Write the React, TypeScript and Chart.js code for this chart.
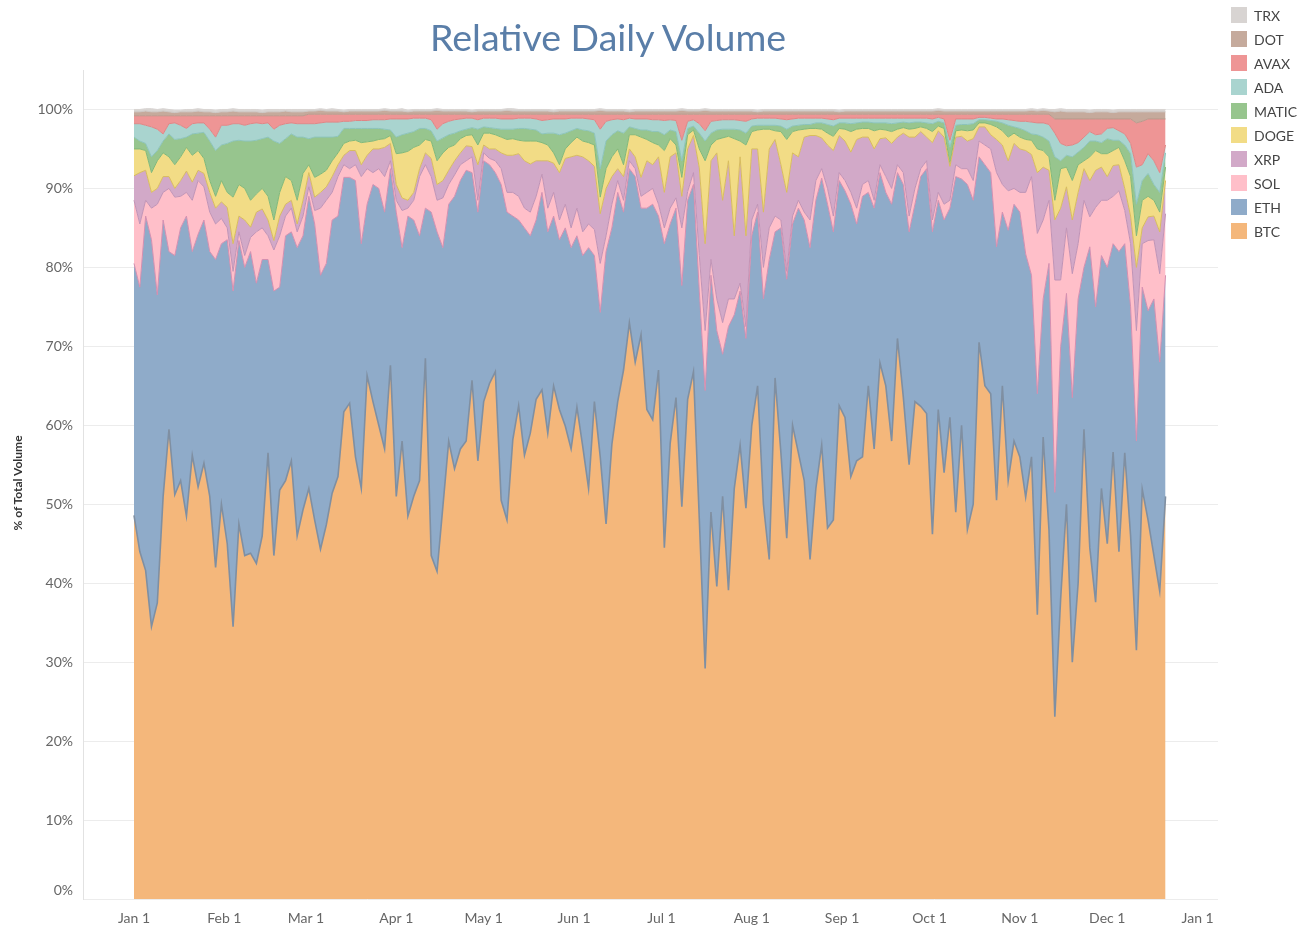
import { useEffect, useRef } from "react";
import { Chart, registerables } from "chart.js";

Chart.register(...registerables);

// Sampling grid: every second day from Jan 1 (day 0) to Dec 21 (day 354)
const monthTickDays = [0, 31, 59, 90, 120, 151, 181, 212, 243, 273, 304, 334, 365];
const monthTickLabels = ["Jan 1", "Feb 1", "Mar 1", "Apr 1", "May 1", "Jun 1", "Jul 1", "Aug 1", "Sep 1", "Oct 1", "Nov 1", "Dec 1", "Jan 1"];
const yTickValues = [0, 10, 20, 30, 40, 50, 60, 70, 80, 90, 100];

const btc = [
  48.6, 44, 41.6, 34.5, 37.5, 51, 59.5, 51.2, 53, 48.5,
  56.2, 52.2, 55.2, 51, 42, 50, 45, 34.5, 47.5, 43.5,
  43.8, 42.5, 46, 56.5, 43.5, 51.8, 53, 55.5, 46, 49.3,
  52, 48, 44.3, 47.4, 51.4, 53.5, 61.7, 62.8, 56, 52,
  66.3, 63, 60, 57, 67.6, 51, 58, 48.5, 51, 53,
  68.5, 43.5, 41.5, 49.7, 58, 54.5, 57, 58, 65.7, 55.5,
  63, 65.3, 66.8, 50.5, 48, 58.2, 62.5, 56.2, 59, 63.3,
  64.5, 59, 65, 62, 59.9, 57, 62.3, 57.3, 52, 63,
  56, 47.5, 57.6, 63, 67, 73, 68, 71.5, 62, 60.7,
  67, 44.5, 57.7, 63.5, 49.7, 63.3, 66.8, 48.1, 29.2, 49,
  39.6, 51, 39.1, 52, 57.5, 49.5, 60, 65, 50, 43,
  66, 56.5, 45.7, 60, 56.5, 53, 43, 52, 57.5, 47,
  48, 62.5, 61, 53.5, 55.5, 56, 65, 57, 67.9, 65,
  58, 71, 63.6, 55, 63, 62.4, 61.5, 46.2, 62, 54,
  61, 49, 60, 46.8, 50, 70.5, 65, 64, 50.5, 65,
  53, 58, 56, 50.9, 56, 36, 58.5, 46.7, 23.1, 38,
  50, 30, 40, 59.5, 44.5, 37.6, 52, 45, 56.6, 44,
  56.5, 46, 31.5, 51.9, 48, 43.5, 39, 51,
];

const eth = [
  31.9, 33.5, 44.9, 49.0, 39.0, 35.0, 22.5, 30.3, 32.0, 38.0,
  25.8, 32.0, 30.8, 31.0, 39.0, 33.0, 38.5, 42.5, 35.9, 36.5,
  38.2, 35.5, 35.0, 24.5, 33.5, 25.7, 31.0, 29.0, 36.5, 34.7,
  37.0, 37.5, 34.7, 33.1, 34.6, 33.0, 29.7, 28.6, 35.0, 31.0,
  21.7, 27.5, 30.0, 30.0, 24.9, 36.0, 24.5, 38.0, 35.0, 31.0,
  19.0, 43.5, 43.0, 32.8, 30.0, 34.5, 34.0, 34.3, 26.3, 31.5,
  30.5, 27.7, 25.2, 40.0, 39.0, 28.3, 23.5, 28.8, 25.0, 22.7,
  25.0, 25.5, 21.5, 21.5, 25.1, 25.5, 21.7, 24.2, 30.5, 18.5,
  18.3, 34.5, 27.4, 26.5, 20.0, 19.5, 23.5, 16.0, 25.5, 27.3,
  19.5, 38.5, 27.8, 24.0, 28.0, 25.2, 23.7, 28.9, 35.2, 30.0,
  32.4, 18.0, 33.4, 22.0, 19.5, 21.5, 24.0, 22.0, 26.0, 38.0,
  18.5, 28.5, 32.8, 25.5, 31.0, 33.0, 39.5, 36.5, 33.8, 41.0,
  36.5, 28.5, 28.7, 34.5, 30.0, 33.0, 24.5, 30.5, 24.1, 24.5,
  30.0, 21.0, 26.9, 29.5, 25.0, 29.1, 31.0, 38.3, 26.5, 32.0,
  26.5, 42.5, 31.2, 43.7, 38.5, 23.5, 28.0, 28.0, 32.1, 22.0,
  31.7, 30.0, 31.0, 30.8, 23.0, 28.0, 17.5, 33.8, 28.4, 32.0,
  26.7, 33.5, 36.0, 20.5, 38.1, 37.4, 29.5, 35.0, 26.4, 38.0,
  26.5, 29.0, 26.5, 25.6, 26.5, 32.5, 29.0, 28.0,
];

const sol = [
  8.0, 8.0, 2.0, 4.0, 11.5, 3.5, 8.0, 7.4, 4.0, 3.0,
  6.5, 6.8, 4.2, 5.0, 4.5, 3.2, 1.5, 2.5, 1.1, 1.5,
  1.8, 6.5, 4.0, 3.0, 5.2, 6.5, 2.5, 3.0, 2.0, 2.5,
  1.2, 1.7, 8.5, 8.0, 3.5, 5.0, 1.6, 1.1, 2.0, 8.5,
  4.5, 1.5, 2.5, 4.5, 1.0, 1.5, 4.7, 1.0, 2.5, 7.5,
  5.5, 4.5, 4.0, 6.3, 2.5, 2.7, 2.0, 1.2, 2.0, 1.5,
  1.0, 0.8, 1.5, 2.0, 2.5, 3.0, 3.0, 2.5, 3.0, 3.0,
  2.3, 3.0, 3.0, 2.5, 3.0, 2.5, 3.5, 3.0, 3.0, 3.3,
  6.2, 2.0, 3.0, 1.5, 1.5, 1.0, 1.0, 1.5, 2.0, 2.0,
  1.5, 2.0, 2.0, 1.3, 7.3, 1.1, 1.5, 4.5, 7.6, 2.0,
  4.0, 4.0, 3.5, 2.0, 1.0, 1.5, 2.0, 1.0, 4.0, 4.0,
  2.0, 1.0, 1.0, 1.0, 1.0, 1.0, 3.5, 2.5, 1.2, 2.0,
  2.0, 1.0, 1.3, 1.5, 2.0, 1.5, 1.5, 1.0, 1.0, 2.0,
  2.0, 1.0, 1.5, 2.0, 2.0, 1.0, 1.0, 1.5, 1.0, 2.0,
  1.0, 1.5, 1.3, 2.0, 2.5, 2.0, 2.5, 3.0, 9.4, 3.5,
  5.0, 2.0, 2.5, 7.8, 12.5, 20.3, 10.0, 8.0, 26.9, 8.4,
  8.3, 15.7, 7.0, 8.5, 3.8, 12.6, 7.0, 8.5, 6.0, 7.7,
  4.2, 8.0, 14.0, 5.5, 8.9, 7.5, 11.2, 7.8,
];

const xrp = [
  3.1, 6.5, 3.8, 2.0, 2.0, 2.0, 1.5, 1.1, 2.0, 2.7,
  2.3, 1.3, 1.7, 2.5, 2.0, 2.1, 2.6, 3.5, 2.0, 4.5,
  1.3, 2.5, 2.4, 2.0, 1.2, 2.5, 1.5, 1.0, 1.0, 2.0,
  1.8, 1.7, 2.0, 1.7, 2.0, 1.5, 1.2, 2.3, 1.8, 1.5,
  1.7, 3.0, 2.5, 3.7, 2.2, 2.0, 1.6, 1.0, 1.0, 1.0,
  1.5, 2.3, 2.0, 2.2, 1.8, 1.8, 1.5, 1.9, 1.3, 4.5,
  1.0, 1.2, 1.5, 2.0, 4.7, 4.7, 5.4, 6.0, 6.1, 4.5,
  1.7, 6.0, 3.7, 6.0, 5.8, 9.0, 6.7, 9.5, 8.0, 8.0,
  6.3, 6.0, 3.5, 1.5, 3.0, 1.5, 1.5, 2.4, 4.0, 3.0,
  6.0, 4.5, 6.5, 5.7, 4.0, 5.4, 4.7, 11.1, 11.0, 12.5,
  18.5, 15.5, 17.5, 8.0, 16.0, 11.5, 9.0, 7.0, 7.0, 10.0,
  9.7, 7.0, 10.0, 8.0, 5.5, 9.5, 10.7, 5.7, 3.9, 5.5,
  8.3, 4.7, 5.0, 5.1, 8.7, 6.0, 5.5, 6.5, 3.3, 4.9,
  5.7, 3.5, 5.0, 10.0, 6.5, 4.7, 3.0, 9.8, 7.8, 8.5,
  4.3, 3.5, 4.1, 3.5, 5.3, 1.8, 2.3, 1.8, 4.2, 5.0,
  3.8, 5.7, 5.5, 5.3, 2.8, 7.7, 6.7, 3.8, 7.6, 9.1,
  5.2, 6.8, 6.5, 4.0, 4.6, 4.7, 4.2, 3.0, 3.9, 3.3,
  2.8, 3.5, 8.0, 2.0, 3.0, 3.0, 5.3, 4.2,
];

const doge = [
  3.4, 3.0, 2.5, 2.5, 3.5, 3.0, 2.5, 3.0, 3.0, 3.0,
  3.4, 2.5, 1.9, 1.5, 1.5, 2.7, 1.9, 5.9, 4.0, 4.0,
  3.4, 2.3, 2.6, 3.0, 2.6, 3.0, 3.5, 2.5, 3.0, 3.4,
  1.0, 2.5, 2.3, 2.1, 2.0, 1.5, 1.5, 1.2, 1.3, 2.8,
  1.7, 1.0, 1.2, 1.1, 1.0, 3.9, 5.7, 6.2, 5.7, 3.0,
  1.7, 2.2, 3.0, 3.5, 2.9, 2.0, 1.8, 1.3, 1.5, 2.5,
  1.5, 2.0, 1.8, 2.0, 2.0, 2.1, 1.7, 2.5, 2.9, 2.5,
  2.3, 2.0, 1.3, 1.0, 1.2, 1.8, 2.3, 2.0, 2.3, 2.7,
  2.1, 2.5, 2.5, 2.5, 1.5, 1.8, 2.8, 5.1, 2.7, 2.8,
  1.5, 5.3, 2.3, 1.0, 2.4, 1.8, 0.7, 2.4, 10.5, 2.0,
  1.7, 7.9, 3.1, 12.3, 2.0, 11.5, 2.2, 2.4, 10.5, 2.5,
  1.1, 4.2, 6.7, 2.7, 3.4, 1.0, 0.9, 0.9, 1.1, 1.5,
  1.8, 0.9, 1.5, 2.6, 1.3, 1.1, 1.1, 2.3, 1.2, 1.0,
  1.5, 1.0, 0.7, 1.0, 1.1, 0.6, 1.1, 1.4, 0.6, 1.1,
  0.3, 0.8, 0.8, 1.3, 1.1, 0.5, 0.5, 1.3, 1.6, 1.8,
  3.0, 1.3, 1.5, 1.4, 1.8, 3.0, 2.1, 1.7, 2.5, 5.0,
  2.5, 5.0, 3.5, 1.0, 3.0, 2.5, 1.7, 2.9, 1.9, 2.2,
  3.5, 5.0, 4.0, 3.5, 2.6, 2.0, 2.5, 1.7,
];

const matic = [
  1.5, 1.0, 0.9, 2.0, 1.3, 1.5, 2.9, 3.2, 2.3, 1.3,
  2.7, 2.2, 3.3, 5.0, 5.8, 4.5, 6.2, 7.1, 5.6, 6.0,
  7.5, 6.8, 6.3, 7.5, 10.0, 6.2, 4.8, 5.9, 8.0, 4.6,
  3.3, 5.1, 4.7, 4.2, 3.0, 2.1, 1.9, 1.6, 1.5, 1.8,
  1.7, 1.6, 1.4, 1.2, 0.7, 2.1, 2.3, 2.3, 2.0, 2.1,
  1.4, 1.3, 2.5, 1.9, 1.6, 1.5, 1.0, 0.8, 0.9, 2.0,
  0.8, 0.7, 0.8, 1.0, 1.3, 1.2, 1.5, 1.6, 1.5, 1.4,
  1.1, 1.5, 2.5, 3.8, 2.0, 1.5, 1.1, 1.4, 1.5, 1.5,
  3.6, 3.5, 2.8, 2.3, 4.0, 1.0, 0.8, 0.9, 1.2, 1.4,
  1.7, 2.0, 1.1, 1.7, 2.1, 0.8, 0.5, 2.0, 2.5, 1.5,
  1.2, 1.1, 0.9, 1.2, 1.4, 1.5, 0.7, 0.6, 0.5, 0.5,
  0.7, 0.7, 1.3, 0.7, 0.6, 0.6, 0.5, 0.7, 0.8, 1.1,
  1.3, 0.7, 0.8, 1.0, 0.8, 0.8, 0.8, 1.0, 0.8, 0.9,
  1.0, 0.8, 0.7, 0.8, 0.8, 0.6, 0.7, 1.0, 0.6, 0.7,
  2.1, 0.7, 0.7, 0.8, 0.8, 0.4, 0.4, 0.5, 0.7, 1.0,
  1.5, 0.8, 1.1, 1.1, 0.8, 1.8, 1.7, 2.0, 5.5, 1.0,
  1.5, 3.0, 1.6, 1.7, 2.0, 1.2, 1.4, 1.9, 1.3, 0.9,
  2.0, 2.9, 4.0, 2.5, 2.9, 2.0, 2.5, 1.8,
];

const ada = [
  1.7, 2.2, 2.3, 3.8, 2.7, 0.9, 1.3, 2.1, 1.7, 1.1,
  1.3, 1.3, 1.2, 1.5, 1.7, 2.5, 2.3, 2.2, 2.1, 2.0,
  2.2, 2.2, 1.9, 1.8, 1.5, 2.3, 1.9, 1.4, 1.7, 1.7,
  1.9, 1.7, 1.8, 1.9, 1.9, 1.8, 0.9, 0.9, 1.0, 1.0,
  1.0, 1.1, 1.1, 1.2, 1.4, 2.3, 2.0, 1.8, 1.7, 1.3,
  1.3, 1.4, 1.5, 1.8, 1.7, 1.7, 1.5, 1.4, 1.2, 1.2,
  1.1, 1.2, 1.3, 1.3, 1.3, 1.3, 1.3, 1.3, 1.4, 1.4,
  1.7, 1.7, 1.8, 2.0, 1.8, 1.6, 1.3, 1.5, 1.5, 1.7,
  5.0, 2.5, 1.9, 1.5, 1.7, 1.1, 1.2, 1.4, 1.4, 1.5,
  1.5, 1.8, 1.3, 1.4, 2.6, 0.9, 0.8, 1.2, 1.3, 1.5,
  1.2, 1.2, 1.2, 1.2, 1.2, 1.5, 0.9, 0.9, 0.9, 0.9,
  0.9, 0.9, 1.2, 0.9, 0.9, 0.8, 0.8, 0.6, 0.6, 0.7,
  0.8, 0.6, 0.6, 0.7, 0.6, 0.5, 0.5, 0.6, 0.6, 0.6,
  0.7, 0.6, 0.5, 0.6, 0.5, 0.5, 0.6, 0.6, 0.5, 0.5,
  0.9, 0.8, 0.7, 0.7, 0.6, 0.3, 0.3, 0.3, 0.3, 0.5,
  0.7, 0.8, 0.9, 1.2, 1.5, 1.5, 1.8, 2.1, 3.0, 2.2,
  1.2, 1.5, 1.2, 1.3, 1.2, 0.8, 1.1, 1.3, 1.6, 1.2,
  1.4, 1.3, 4.7, 2.0, 2.5, 3.0, 2.5, 1.0,
];

const avax = [
  1.0, 1.0, 1.2, 1.4, 1.7, 2.3, 1.0, 0.9, 1.2, 1.6,
  1.0, 0.9, 0.9, 1.7, 2.7, 1.2, 1.2, 1.0, 1.0, 1.2,
  1.0, 0.9, 1.0, 0.9, 1.7, 1.2, 1.0, 0.9, 1.0, 1.0,
  1.2, 1.2, 1.1, 1.0, 1.0, 1.0, 0.9, 0.9, 0.8, 0.8,
  0.8, 0.7, 0.7, 0.7, 0.6, 0.6, 0.6, 0.6, 0.5, 0.5,
  0.5, 0.7, 1.9, 1.2, 0.9, 0.7, 0.6, 0.5, 0.5, 0.7,
  0.5, 0.5, 0.5, 0.6, 0.6, 0.6, 0.5, 0.5, 0.5, 0.6,
  0.8, 0.7, 0.6, 0.6, 0.6, 0.5, 0.5, 0.5, 0.6, 0.7,
  1.9, 0.9, 0.7, 0.6, 0.7, 0.5, 0.6, 0.6, 0.6, 0.7,
  0.7, 0.8, 0.7, 0.8, 3.3, 0.9, 0.7, 1.2, 2.1, 0.9,
  0.8, 0.7, 0.7, 0.7, 0.8, 0.9, 0.6, 0.5, 0.5, 0.5,
  0.5, 0.6, 0.7, 0.6, 0.5, 0.5, 0.5, 0.5, 0.5, 0.6,
  0.7, 0.5, 0.5, 0.5, 0.5, 0.5, 0.5, 0.5, 0.5, 0.5,
  0.5, 0.5, 0.5, 0.5, 0.5, 0.5, 0.5, 0.6, 0.4, 0.6,
  3.3, 0.6, 0.6, 0.6, 0.6, 0.4, 0.4, 0.5, 0.6, 0.6,
  0.7, 0.8, 0.9, 0.9, 1.0, 1.1, 1.1, 1.3, 1.8, 3.1,
  3.4, 3.3, 3.0, 2.3, 1.6, 2.0, 1.9, 1.2, 1.1, 1.5,
  1.9, 3.1, 5.6, 5.5, 4.4, 5.3, 6.8, 3.3,
];

const dot = [
  0.5, 0.5, 0.6, 0.5, 0.5, 0.6, 0.5, 0.4, 0.5, 0.5,
  0.5, 0.6, 0.5, 0.5, 0.4, 0.5, 0.5, 0.6, 0.5, 0.5,
  0.5, 0.5, 0.4, 0.5, 0.5, 0.5, 0.6, 0.5, 0.5, 0.5,
  0.4, 0.4, 0.5, 0.4, 0.4, 0.4, 0.3, 0.4, 0.4, 0.4,
  0.4, 0.4, 0.4, 0.5, 0.4, 0.4, 0.4, 0.3, 0.4, 0.4,
  0.4, 0.4, 0.5, 0.4, 0.4, 0.4, 0.4, 0.4, 0.3, 0.4,
  0.4, 0.4, 0.4, 0.4, 0.5, 0.4, 0.4, 0.4, 0.4, 0.4,
  0.4, 0.4, 0.3, 0.4, 0.4, 0.4, 0.4, 0.4, 0.4, 0.4,
  0.5, 0.4, 0.4, 0.4, 0.4, 0.3, 0.4, 0.4, 0.4, 0.4,
  0.4, 0.4, 0.4, 0.4, 0.5, 0.4, 0.4, 0.4, 0.5, 0.4,
  0.4, 0.4, 0.4, 0.4, 0.4, 0.4, 0.4, 0.3, 0.4, 0.4,
  0.4, 0.4, 0.4, 0.4, 0.4, 0.4, 0.4, 0.4, 0.4, 0.4,
  0.4, 0.3, 0.4, 0.4, 0.4, 0.4, 0.4, 0.4, 0.4, 0.4,
  0.4, 0.4, 0.4, 0.4, 0.4, 0.4, 0.4, 0.4, 0.5, 0.4,
  0.4, 0.4, 0.4, 0.4, 0.4, 0.4, 0.4, 0.4, 0.4, 0.4,
  0.4, 0.4, 0.4, 0.4, 0.5, 0.4, 0.5, 0.4, 0.9, 1.0,
  0.9, 0.9, 0.9, 0.9, 0.8, 0.9, 0.9, 0.9, 0.8, 0.9,
  0.9, 0.9, 1.4, 1.2, 0.9, 0.9, 0.9, 0.9,
];

const trx = [
  0.3, 0.3, 0.3, 0.4, 0.3, 0.3, 0.3, 0.3, 0.2, 0.3,
  0.3, 0.3, 0.3, 0.3, 0.3, 0.3, 0.3, 0.3, 0.3, 0.3,
  0.3, 0.3, 0.3, 0.3, 0.3, 0.3, 0.2, 0.3, 0.3, 0.3,
  0.2, 0.2, 0.2, 0.2, 0.3, 0.2, 0.2, 0.2, 0.2, 0.2,
  0.2, 0.2, 0.2, 0.2, 0.2, 0.2, 0.3, 0.2, 0.2, 0.2,
  0.2, 0.2, 0.2, 0.2, 0.2, 0.2, 0.2, 0.2, 0.2, 0.2,
  0.2, 0.2, 0.2, 0.2, 0.2, 0.3, 0.2, 0.2, 0.2, 0.2,
  0.2, 0.2, 0.2, 0.2, 0.2, 0.2, 0.2, 0.2, 0.2, 0.2,
  0.2, 0.2, 0.2, 0.2, 0.2, 0.2, 0.2, 0.2, 0.2, 0.2,
  0.2, 0.2, 0.2, 0.2, 0.2, 0.2, 0.2, 0.2, 0.2, 0.2,
  0.2, 0.2, 0.2, 0.2, 0.2, 0.2, 0.2, 0.2, 0.2, 0.2,
  0.2, 0.2, 0.2, 0.2, 0.2, 0.2, 0.2, 0.2, 0.2, 0.2,
  0.2, 0.2, 0.2, 0.2, 0.2, 0.2, 0.2, 0.2, 0.2, 0.2,
  0.2, 0.2, 0.2, 0.2, 0.2, 0.2, 0.2, 0.2, 0.2, 0.2,
  0.2, 0.2, 0.2, 0.2, 0.2, 0.2, 0.2, 0.2, 0.2, 0.2,
  0.2, 0.2, 0.2, 0.2, 0.2, 0.2, 0.2, 0.2, 0.3, 0.3,
  0.3, 0.3, 0.3, 0.3, 0.3, 0.3, 0.3, 0.3, 0.3, 0.3,
  0.3, 0.3, 0.3, 0.3, 0.3, 0.3, 0.3, 0.3,
];

// day offset (from Jan 1) of each sample
const dayOffsets = btc.map((_, i) => i * 2);

const seriesNames = ["BTC", "ETH", "SOL", "XRP", "DOGE", "MATIC", "ADA", "AVAX", "DOT", "TRX"];
const seriesValues = [btc, eth, sol, xrp, doge, matic, ada, avax, dot, trx];
const fillColors = ["#f4b77b", "#8fabc9", "#ffbfc9", "#d2a9c8", "#f2dc86", "#97c58e", "#a9d4cf", "#ee9595", "#c5aa9c", "#d8d4d2"];
const lineColors = ["#7f8fa2", "#d58fb0", "#bf93b6", "#d8bd5c", "#80b879", "#8cc4bd", "#df8585", "#b89a8c", "#cdc7c4", "#d8d4d2"];

const FONT = "Lato, 'Open Sans', sans-serif";
const TICK_COLOR = "#666666";

// Draws the "0%" label a little above the zero line, as in the reference.
const zeroLabelPlugin = {
  id: "zeroLabel",
  afterDraw(chart: any) {
    const y = chart.scales.y;
    if (!y) return;
    const ctx = chart.ctx;
    ctx.save();
    ctx.font = `14px ${FONT}`;
    ctx.fillStyle = TICK_COLOR;
    ctx.textAlign = "right";
    ctx.textBaseline = "middle";
    ctx.fillText(`${yTickValues[0]}%`, chart.chartArea.left - 10, y.getPixelForValue(yTickValues[0]) - 9);
    ctx.restore();
  },
};

export default function App() {
  const canvasRef = useRef<HTMLCanvasElement | null>(null);

  useEffect(() => {
    if (!canvasRef.current) return;
    const datasets = seriesValues.map((vals, i) => ({
      label: seriesNames[i],
      data: vals.map((v, k) => ({ x: dayOffsets[k], y: v })),
      backgroundColor: fillColors[i],
      borderColor: lineColors[i],
      borderWidth: i === 0 ? 1.6 : 1,
      pointRadius: 0,
      tension: 0,
      fill: i === 0 ? "origin" : "-1",
    }));

    const chart = new Chart(canvasRef.current, {
      type: "line",
      data: { datasets },
      plugins: [zeroLabelPlugin],
      options: {
        animation: false,
        responsive: false,
        devicePixelRatio: 1,
        layout: { padding: { top: 70, right: 87, left: 0, bottom: 0 } },
        plugins: {
          legend: { display: false },
          tooltip: { enabled: false },
          title: { display: false },
        },
        scales: {
          x: {
            type: "linear",
            min: -17.5,
            max: 372,
            grid: { display: false, drawTicks: false },
            border: { display: false },
            afterBuildTicks: (s: any) => {
              s.ticks = monthTickDays.map((v) => ({ value: v }));
            },
            afterFit: (s: any) => {
              s.height = 29;
            },
            ticks: {
              autoSkip: false,
              maxRotation: 0,
              padding: 11,
              color: TICK_COLOR,
              font: { family: FONT, size: 14 },
              callback: (v: any) => {
                const idx = monthTickDays.indexOf(Number(v));
                return idx >= 0 ? monthTickLabels[idx] : "";
              },
            },
          },
          y: {
            type: "linear",
            stacked: true,
            min: 0,
            max: 105,
            afterBuildTicks: (s: any) => {
              s.ticks = yTickValues.map((v) => ({ value: v }));
            },
            afterFit: (s: any) => {
              s.width = 83;
            },
            grid: { color: "#ececec", lineWidth: 1, drawTicks: false },
            border: { display: true, color: "#e2e2e2" },
            ticks: {
              padding: 10,
              color: TICK_COLOR,
              font: { family: FONT, size: 14 },
              callback: (v: any) => (Number(v) === yTickValues[0] ? "" : `${v}%`),
            },
          },
        },
      },
    });
    return () => chart.destroy();
  }, []);

  const legendItems = [...seriesNames].reverse().map((n) => ({ name: n, color: fillColors[seriesNames.indexOf(n)] }));

  return (
    <div style={{ position: "fixed", left: 0, top: 0, width: 1305, height: 928, background: "#ffffff", fontFamily: FONT }}>
      <canvas ref={canvasRef} width={1305} height={928} style={{ position: "absolute", left: 0, top: 0, width: 1305, height: 928 }} />
      <div
        style={{
          position: "absolute",
          left: 0,
          top: 14,
          width: 1216,
          textAlign: "center",
          fontSize: 37.5,
          lineHeight: "46px",
          color: "#5a7ea8",
          fontFamily: FONT,
        }}
      >
        Relative Daily Volume
      </div>
      <div
        style={{
          position: "absolute",
          left: 18 - 80,
          top: 483 - 8,
          width: 160,
          height: 16,
          lineHeight: "16px",
          textAlign: "center",
          transform: "rotate(-90deg)",
          fontSize: 12,
          fontWeight: 700,
          color: "#333333",
          fontFamily: FONT,
        }}
      >
        % of Total Volume
      </div>
      <div style={{ position: "absolute", left: 1231, top: 3 }}>
        {legendItems.map((it) => (
          <div key={it.name} style={{ display: "flex", alignItems: "center", height: 24 }}>
            <span style={{ display: "inline-block", width: 16, height: 16, background: it.color, marginRight: 7 }} />
            <span style={{ fontSize: 14, color: "#444444", fontFamily: FONT }}>{it.name}</span>
          </div>
        ))}
      </div>
    </div>
  );
}
